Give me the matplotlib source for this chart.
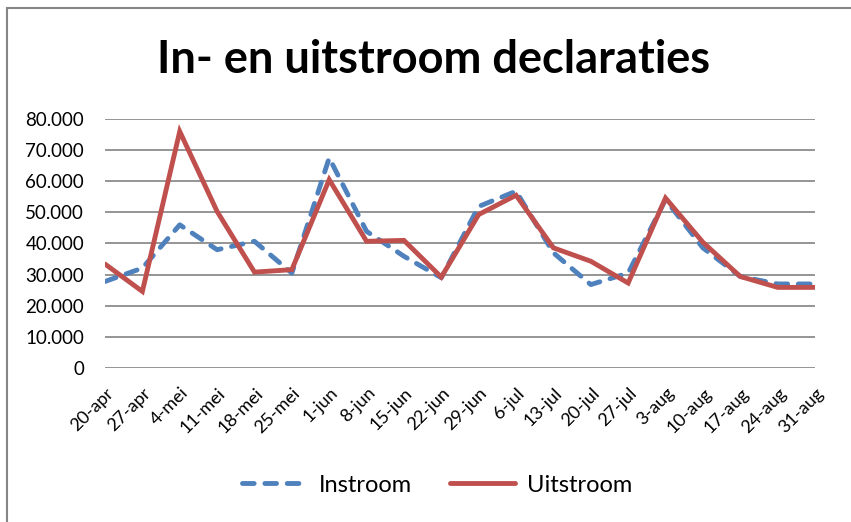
import matplotlib
matplotlib.use("Agg")
import matplotlib.pyplot as plt
from matplotlib.ticker import FuncFormatter, MultipleLocator
from matplotlib.patches import Rectangle
from matplotlib.transforms import ScaledTranslation

weeks = ["20-apr", "27-apr", "4-mei", "11-mei", "18-mei", "25-mei", "1-jun", "8-jun",
         "15-jun", "22-jun", "29-jun", "6-jul", "13-jul", "20-jul", "27-jul", "3-aug",
         "10-aug", "17-aug", "24-aug", "31-aug"]
instroom = [27800, 32100, 46000, 38000, 40700, 30500, 67500, 43900, 35900, 29000,
            51900, 56800, 37000, 26800, 30500, 54100, 38600, 29400, 27000, 27000]
uitstroom = [33400, 24600, 76000, 50300, 30800, 31600, 60500, 40700, 41000, 29200,
             49300, 55500, 38600, 34300, 27300, 54600, 40400, 29400, 25900, 25900]

plt.rcParams['font.family'] = ['Lato', 'DejaVu Sans']

fig = plt.figure(figsize=(8.51, 5.22), dpi=100)
fig.patch.set_facecolor("white")

# outer chart frame (cropped at right/bottom)
fig.patches.append(Rectangle((7 / 851, -0.05), 1.0, 1 - 8 / 522 + 0.05,
                             transform=fig.transFigure, fill=False,
                             edgecolor="#868686", linewidth=1.5))

ax = fig.add_axes([105 / 851, 1 - 368 / 522, 710 / 851, 249 / 522])
x = list(range(len(weeks)))
ax.plot(x, instroom, color="#4F81BD", linewidth=3.5, linestyle=(0, (2.4, 2.2)),
        dash_capstyle="round", label="Instroom", zorder=3)
ax.plot(x, uitstroom, color="#C0504D", linewidth=3.5, solid_capstyle="round",
        solid_joinstyle="miter", label="Uitstroom", zorder=4)

ax.set_xlim(0, len(weeks) - 1)
ax.set_ylim(0, 80000)
ax.yaxis.set_major_locator(MultipleLocator(10000))
ax.yaxis.set_major_formatter(FuncFormatter(lambda v, p: f"{int(v):,}".replace(",", ".")))
ax.grid(axis="y", color="#8C8C8C", linewidth=1.3)
ax.set_axisbelow(True)
for s in ax.spines.values():
    s.set_visible(False)
ax.tick_params(axis="both", length=0, labelsize=13.5, colors="black")
ax.tick_params(axis="y", pad=15)
ax.set_xticks(x)
ax.set_xticklabels(weeks, rotation=45, ha="right", va="center", rotation_mode="anchor",
                   fontsize=13)
ax.tick_params(axis="x", pad=14)
offset = ScaledTranslation(6 / 100, -3 / 100, fig.dpi_scale_trans)
for lbl in ax.get_xticklabels():
    lbl.set_transform(lbl.get_transform() + offset)

fig.text(434 / 851, 1 - 60 / 522, "In- en uitstroom declaraties", ha="center",
         va="center", fontsize=32.5, fontweight="bold")

fig.legend(loc="center", bbox_to_anchor=(437 / 851, 1 - 485 / 522), ncol=2,
           frameon=False, fontsize=17, handlelength=2.75, columnspacing=1.6,
           handletextpad=0.5)

fig.savefig("out.png", dpi=100)
